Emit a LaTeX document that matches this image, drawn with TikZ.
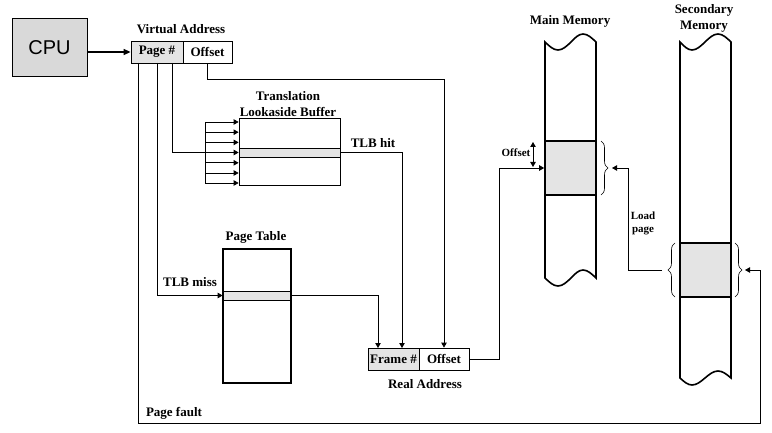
\documentclass[tikz,border=0pt]{standalone}
\usepackage{fontspec}
\setmainfont{Liberation Serif}
\newfontfamily\arialf{Liberation Sans}
\usetikzlibrary{arrows.meta,decorations.pathreplacing,calc}
\definecolor{blockgray}{RGB}{228,228,228}
\definecolor{cpugray}{RGB}{217,217,217}
\begin{document}
\begin{tikzpicture}[x=1pt,y=-1pt,
  lbl/.style={font=\fontsize{13}{16}\selectfont\bfseries, inner sep=0, align=center},
  sml/.style={font=\fontsize{11}{13}\selectfont\bfseries, inner sep=0, align=center},
  cell/.style={draw, line width=0.8pt, inner sep=0, minimum height=22pt, font=\fontsize{13}{15}\selectfont\bfseries},
  conn/.style={line width=0.8pt},
  arr/.style={conn, -{Triangle[length=5pt,width=5.5pt]}},
  heavy/.style={line width=1.6pt},
  brc/.style={decorate, decoration={brace, amplitude=7pt}, line width=0.6pt},
  cpubox/.style={draw, line width=1pt, fill=cpugray, minimum width=75pt, minimum height=58pt, inner sep=0, font=\arialf\fontsize{20}{22}\selectfont}
]
\useasboundingbox (0,0) rectangle (772,433);

% CPU and virtual address
\node[cpubox] (cpu) at (49.5,48) {CPU};
\node[cell, fill=blockgray, minimum width=52pt] (page) at (157,52) {Page \#};
\node[cell, minimum width=49pt] (voff) at (207.5,52) {Offset};
\node[lbl] (va) at (181,29) {Virtual Address};
\draw[line width=1.5pt, -{Triangle[length=7pt,width=6pt]}] (cpu.east |- page.west) -- (page.west);

\coordinate (p1) at (138,63);
\coordinate (p2) at (157,63);
\coordinate (p3) at (172,63);

% TLB
\node[lbl] (tlbl) at (288,104) {Translation\\Lookaside Buffer};
\node[draw, fill=blockgray, line width=0.8pt, minimum width=101pt, minimum height=9pt, inner sep=0] (tlbrow) at (289.5,152.5) {};
\node[draw, line width=0.8pt, minimum width=101pt, minimum height=67pt, inner sep=0] (tlb) at (289.5,151.5) {};
\draw[conn] (205,122) -- (205,183);
\foreach \yy in {122,132.2,142.4,162.8,173,183}
  \draw[arr] (205,\yy) -- (tlb.west |- 0,\yy);
\draw[arr] (p3) |- (tlbrow.west);
\node[lbl] (hit) at (373,143) {TLB hit};

% Page table
\node[lbl] (ptl) at (256,237) {Page Table};
\node[draw, fill=blockgray, line width=0.8pt, minimum width=68pt, minimum height=9pt, inner sep=0] (ptrow) at (257,295.5) {};
\node[draw, heavy, minimum width=68pt, minimum height=134pt, inner sep=0] (pt) at (257,316) {};
\draw[arr] (p2) |- (ptrow.west);
\node[lbl] (miss) at (190,282) {TLB miss};

% Real address
\node[cell, fill=blockgray, minimum width=51pt] (frame) at (393.5,359) {Frame \#};
\node[cell, minimum width=50pt] (roff) at (444,359) {Offset};
\node[lbl] (ra) at (425,384) {Real Address};
\coordinate (fr1) at (378,348);
\coordinate (fr2) at (402,348);
\draw[arr] (ptrow.east) -| (fr1);
\draw[arr] (tlbrow.east) -| (fr2);
\draw[arr] (voff.south) -- ++(0,16) -| (roff.north);

% Main memory
\node[lbl] (mml) at (570,21) {Main Memory};
\draw[heavy] (545,42) sin (558,50) cos (571,42) sin (583,34) cos (596,42)
  -- (596,278) sin (583,270) cos (571,278) sin (558,286) cos (545,278) -- cycle;
\node[draw, heavy, fill=blockgray, minimum width=51pt, minimum height=54pt, inner sep=0] (mmblk) at (570.5,168) {};
\draw[arr] (roff.east) -- ++(30,0) |- (mmblk.west);
\coordinate (oa) at (533,142);
\coordinate (ob) at (533,167);
\draw[conn, {Triangle[length=5pt,width=5.5pt]}-{Triangle[length=5pt,width=5.5pt]}] (oa) -- (ob);
\node[sml] (offl) at (516,153) {Offset};
\coordinate (b1a) at (601,141);
\coordinate (b1b) at (601,195);
\draw[brc] (b1a) -- (b1b);

% Secondary memory
\node[lbl] (sml) at (704,18) {Secondary\\Memory};
\draw[heavy] (680,42) sin (692,50) cos (705,42) sin (718,34) cos (731,42)
  -- (731,378) sin (718,371) cos (705,378) sin (692,385) cos (680,378) -- cycle;
\node[draw, heavy, fill=blockgray, minimum width=51pt, minimum height=54pt, inner sep=0] (smblk) at (705.5,270) {};
\coordinate (b2a) at (675,297);
\coordinate (b2b) at (675,243);
\draw[brc] (b2a) -- (b2b);
\coordinate (b3a) at (735,243);
\coordinate (b3b) at (735,297);
\draw[brc] (b3a) -- (b3b);

% Load page
\coordinate (lp1) at (662,270);
\coordinate (lp2) at (612,168);
\draw[arr] (lp1) -- ++(-34,0) |- (lp2);
\node[sml] (load) at (643,223) {Load\\page};

% Page fault
\coordinate (pfc) at (760,423);
\coordinate (pfe) at (745,270);
\draw[arr] (p1) |- (pfc) |- (pfe);
\node[lbl] (pfl) at (174,413) {Page fault};
\end{tikzpicture}
\end{document}
